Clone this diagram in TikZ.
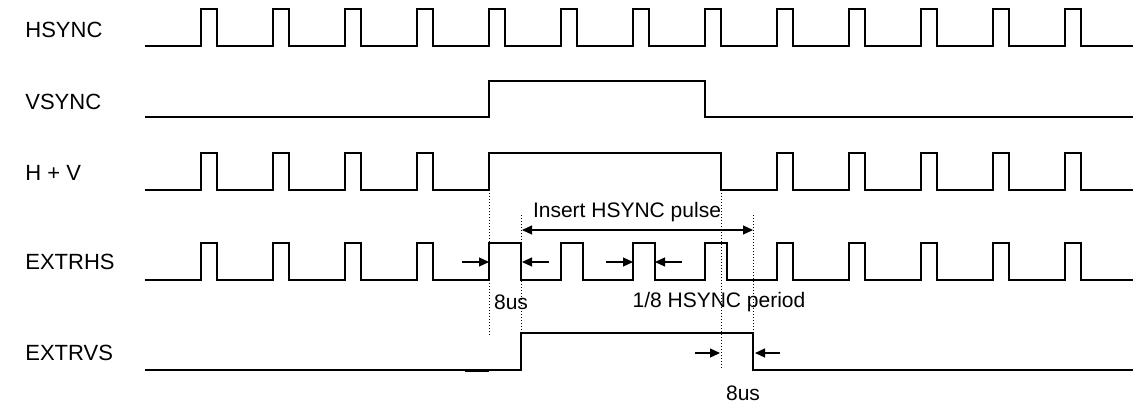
\documentclass[tikz,border=0pt]{standalone}
\usepackage{fontspec}
\setmainfont{Liberation Sans}
\usetikzlibrary{arrows.meta, calc}

\begin{document}
\begin{tikzpicture}[x=0.5pt, y=-0.5pt, >={Triangle[length=5pt, width=4.5pt]}, every node/.style={font=\fontsize{10.5}{12}\selectfont, inner sep=0pt}, signame/.style={anchor=west, font=\fontsize{11}{13}\selectfont}, sig/.style={line width=1pt}, guide/.style={line width=0.5pt, dash pattern=on 0.6pt off 0.9pt}, dim/.style={line width=0.6pt}]
  \useasboundingbox (0,0) rectangle (1133,408);
  % signal names
  \node[signame] (hsync) at (25,30) {HSYNC};
  \node[signame] (vsync) at (25,102) {VSYNC};
  \node[signame] (hv) at (25,173) {H + V};
  \node[signame] (extrhs) at (25,262) {EXTRHS};
  \node[signame] (extrvs) at (25,353) {EXTRVS};
  % waveforms
  \draw[sig] (145,46) foreach \x in {201,273,...,1065} { -- (\x,46) -- (\x,9) -- (\x+16,9) -- (\x+16,46) } -- (1133,46);
  \draw[sig] (145,117) -- (489,117) -- (489,81) -- (705,81) -- (705,117) -- (1133,117);
  \draw[sig] (145,190) foreach \x in {201,273,345,417} { -- (\x,190) -- (\x,153) -- (\x+16,153) -- (\x+16,190) } -- (489,190) -- (489,153) -- (721,153) -- (721,190) foreach \x in {777,849,...,1065} { -- (\x,190) -- (\x,153) -- (\x+16,153) -- (\x+16,190) } -- (1133,190);
  \draw[sig] (145,280) foreach \x in {201,273,345,417} { -- (\x,280) -- (\x,243) -- (\x+16,243) -- (\x+16,280) } -- (489,280) -- (489,243) -- (521,243) -- (521,280) foreach \x in {561,633,705} { -- (\x,280) -- (\x,243) -- (\x+22,243) -- (\x+22,280) } foreach \x in {777,849,...,1065} { -- (\x,280) -- (\x,243) -- (\x+16,243) -- (\x+16,280) } -- (1133,280);
  \draw[sig] (145,370) -- (521,370) -- (521,333) -- (753,333) -- (753,370) -- (1133,370);
  \draw[line width=1.5pt] (465,370) -- (489,370);
  % edges used for the marks
  \coordinate (vRise) at (489,190);
  \coordinate (hEnd) at (521,215);
  \coordinate (vFall) at (721,190);
  \coordinate (insEnd) at (753,215);
  \draw[guide] (vRise) -- (489,335);
  \draw[guide] (hEnd) -- (521,333);
  \draw[guide] (vFall) -- (721,368);
  \draw[guide] (insEnd) -- (753,370);
  % insert span
  \draw[dim, <->] ($(hEnd)+(1,15)$) -- ($(insEnd)+(0,15)$);
  \node (insert) at (627,212) {Insert HSYNC pulse};
  % 8us on EXTRHS
  \draw[dim, ->] (462,262) -- (489,262);
  \draw[dim, ->] (549,262) -- (522,262);
  \node (delayA) at (511,302) {8us};
  % 1/8 HSYNC period
  \draw[dim, ->] (606,262) -- (633,262);
  \draw[dim, ->] (682,262) -- (655,262);
  \node (period) at (719,302) {1/8 HSYNC period};
  % 8us on EXTRVS
  \draw[dim, ->] (695,353) -- (720,353);
  \draw[dim, ->] (780,353) -- (755,353);
  \node (delayB) at (743,393) {8us};
\end{tikzpicture}
\end{document}
